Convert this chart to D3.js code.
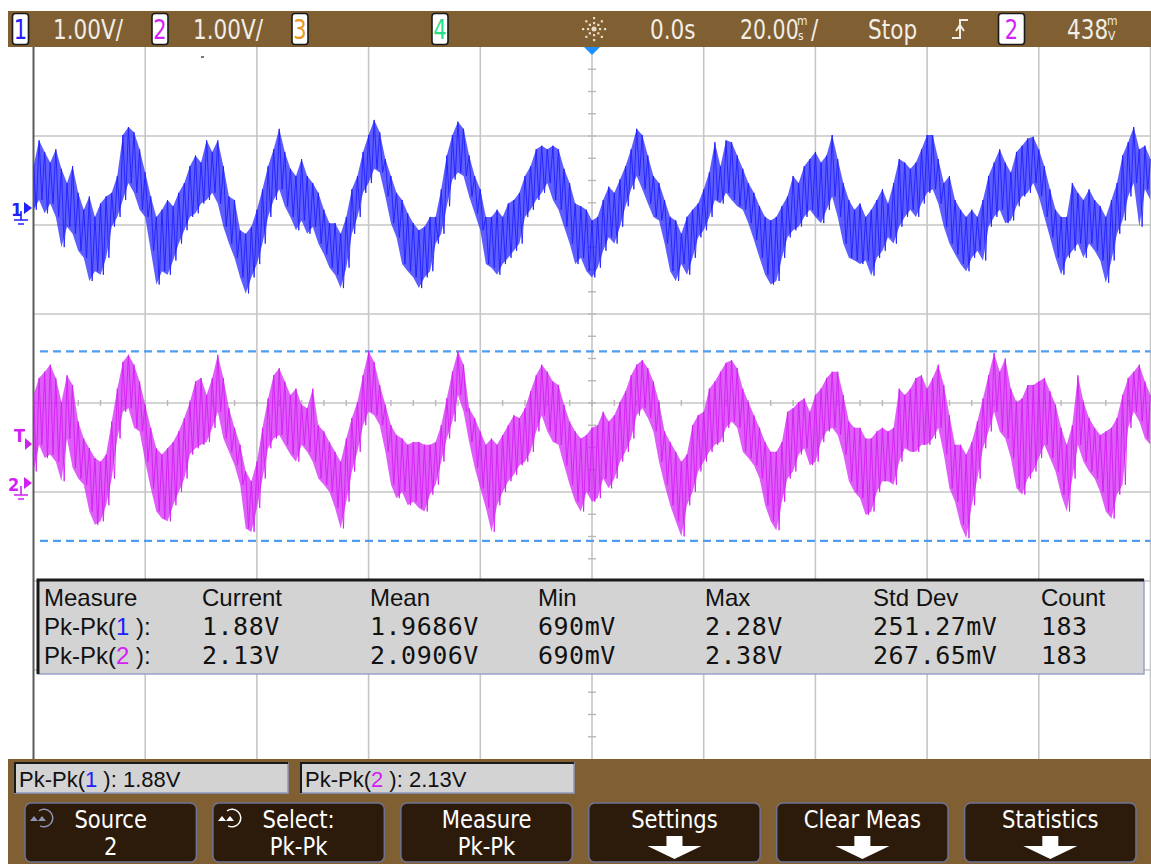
<!DOCTYPE html>
<html>
<head>
<meta charset="utf-8">
<title>Pk-Pk</title>
<script src="https://cdnjs.cloudflare.com/ajax/libs/d3/7.8.5/d3.min.js"></script>
<style>
  body { margin: 0; background: #fff; }
  svg { display: block; }
</style>
</head>
<body>
<div id="pantalla"></div>
<script>
// base de tiempo: una muestra por ms, de -100 ms a +100 ms (20 ms/div)
var t0 = -100, dt = 1;

// canal 1 (V), borde superior e inferior de la traza en cada muestra
var ch1Hi = [
  0.47, 0.76, 0.63, 0.51, 0.66, 0.44, 0.28, 0.47, 0.17, -0.02,
  0.13, -0.10, 0.05, 0.13, 0.17, 0.36, 0.82, 0.91, 0.85, 0.66,
  0.40, 0.13, -0.10, -0.02, 0.09, 0.02, 0.17, 0.28, 0.47, 0.59,
  0.51, 0.76, 0.63, 0.76, 0.47, 0.13, 0.09, -0.25, -0.29, -0.21,
  -0.02, 0.21, 0.47, 0.66, 0.89, 0.63, 0.44, 0.36, 0.55, 0.36,
  0.28, 0.17, -0.02, -0.17, -0.17, -0.29, -0.10, 0.21, 0.36, 0.63,
  0.82, 0.99, 0.85, 0.55, 0.36, 0.17, 0.09, -0.06, -0.17, -0.25,
  -0.21, -0.10, -0.10, 0.21, 0.59, 0.82, 0.97, 0.89, 0.59, 0.36,
  0.21, -0.10, -0.10, -0.02, -0.10, 0.05, 0.09, 0.17, 0.36, 0.47,
  0.66, 0.70, 0.66, 0.70, 0.66, 0.44, 0.28, 0.05, 0.02, -0.02,
  -0.14, -0.10, 0.09, 0.24, 0.17, 0.32, 0.47, 0.66, 0.89, 0.82,
  0.59, 0.36, 0.28, 0.09, -0.10, -0.14, -0.29, -0.10, -0.02, 0.05,
  0.21, 0.40, 0.74, 0.47, 0.76, 0.74, 0.59, 0.44, 0.28, 0.17,
  0.02, -0.10, -0.14, -0.10, 0.02, 0.13, 0.36, 0.28, 0.47, 0.55,
  0.63, 0.51, 0.59, 0.82, 0.55, 0.28, 0.09, -0.02, 0.05, -0.10,
  -0.02, 0.09, 0.21, 0.05, 0.28, 0.55, 0.51, 0.44, 0.51, 0.66,
  0.82, 0.82, 0.55, 0.28, 0.36, 0.09, -0.02, -0.10, -0.02, -0.10,
  0.09, 0.36, 0.51, 0.66, 0.51, 0.40, 0.63, 0.70, 0.78, 0.80,
  0.66, 0.47, 0.21, -0.02, -0.10, -0.10, 0.28, 0.17, 0.09, 0.21,
  0.09, 0.02, -0.10, 0.09, 0.28, 0.59, 0.74, 0.91, 0.66, 0.70,
  0.55
];
var ch1Lo = [
  -0.02, 0.09, -0.06, 0.05, -0.10, -0.44, -0.21, -0.29, -0.48, -0.56,
  -0.82, -0.71, -0.75, -0.56, -0.21, -0.10, 0.09, 0.28, 0.17, -0.02,
  -0.10, -0.48, -0.86, -0.71, -0.75, -0.59, -0.40, -0.25, -0.10, -0.06,
  0.05, 0.09, 0.17, 0.05, -0.21, -0.40, -0.56, -0.78, -0.96, -0.78,
  -0.63, -0.40, -0.10, 0.09, 0.21, 0.02, -0.10, -0.25, -0.14, -0.29,
  -0.21, -0.40, -0.52, -0.67, -0.75, -0.90, -0.67, -0.29, -0.10, 0.17,
  0.28, 0.44, 0.40, 0.13, -0.17, -0.33, -0.63, -0.71, -0.78, -0.90,
  -0.78, -0.71, -0.40, -0.29, 0.02, 0.32, 0.40, 0.36, 0.13, -0.06,
  -0.25, -0.63, -0.67, -0.75, -0.63, -0.56, -0.48, -0.40, -0.10, -0.02,
  0.09, 0.17, 0.28, 0.09, -0.02, -0.21, -0.40, -0.63, -0.56, -0.71,
  -0.78, -0.67, -0.48, -0.33, -0.40, -0.21, 0.02, 0.21, 0.36, 0.21,
  0.05, -0.10, -0.14, -0.40, -0.71, -0.82, -0.63, -0.75, -0.56, -0.33,
  -0.25, -0.10, 0.09, 0.05, 0.17, 0.09, 0.02, -0.02, -0.17, -0.36,
  -0.56, -0.75, -0.86, -0.82, -0.56, -0.33, -0.25, -0.21, -0.10, -0.02,
  -0.10, -0.17, -0.02, 0.13, -0.10, -0.40, -0.56, -0.59, -0.63, -0.59,
  -0.76, -0.56, -0.48, -0.33, -0.40, -0.21, -0.10, -0.02, -0.10, 0.05,
  0.17, 0.21, 0.05, -0.21, -0.40, -0.52, -0.63, -0.71, -0.56, -0.48,
  -0.59, -0.21, -0.10, -0.02, -0.17, -0.14, 0.02, 0.13, 0.17, 0.28,
  0.13, -0.10, -0.33, -0.56, -0.75, -0.56, -0.48, -0.40, -0.56, -0.40,
  -0.48, -0.59, -0.84, -0.59, -0.29, -0.14, 0.13, 0.28, -0.21, 0.21,
  0.09
];

// canal 2 (V)
var ch2Hi = [
  0.99, 1.18, 1.25, 1.33, 1.18, 0.91, 1.21, 1.10, 0.69, 0.50,
  0.39, 0.28, 0.24, 0.32, 0.69, 1.06, 1.36, 1.44, 1.33, 1.14,
  0.88, 0.62, 0.39, 0.32, 0.39, 0.46, 0.58, 0.73, 0.91, 1.14,
  1.18, 0.99, 1.18, 1.44, 1.18, 0.84, 0.62, 0.43, 0.13, 0.02,
  0.24, 0.62, 0.95, 1.21, 1.29, 1.14, 0.99, 1.06, 0.88, 0.84,
  1.06, 0.65, 0.58, 0.46, 0.35, 0.24, 0.50, 0.73, 0.91, 1.21,
  1.48, 1.36, 1.10, 0.88, 0.65, 0.54, 0.50, 0.43, 0.46, 0.46,
  0.43, 0.43, 0.46, 0.65, 0.95, 1.25, 1.48, 1.33, 0.84, 0.73,
  0.58, 0.43, 0.50, 0.43, 0.54, 0.65, 0.76, 0.73, 0.84, 1.03,
  1.21, 1.33, 1.25, 1.14, 1.10, 0.88, 0.69, 0.58, 0.50, 0.54,
  0.62, 0.65, 0.80, 0.69, 0.76, 0.91, 1.03, 1.21, 1.33, 1.38,
  1.29, 1.14, 0.91, 0.58, 0.46, 0.35, 0.24, 0.32, 0.65, 0.76,
  0.80, 1.06, 1.14, 1.25, 1.35, 1.38, 1.29, 1.06, 0.91, 0.76,
  0.62, 0.46, 0.35, 0.35, 0.46, 0.80, 0.84, 0.91, 0.95, 0.80,
  0.99, 1.06, 1.18, 1.25, 1.25, 0.99, 0.69, 0.62, 0.62, 0.50,
  0.50, 0.58, 0.62, 0.58, 0.62, 1.06, 0.99, 1.06, 1.18, 1.21,
  1.06, 1.18, 1.33, 1.10, 0.76, 0.43, 0.43, 0.32, 0.46, 0.69,
  0.95, 1.21, 1.46, 1.25, 1.40, 1.06, 0.91, 0.95, 1.10, 1.10,
  1.14, 1.18, 1.03, 0.88, 0.62, 0.43, 0.65, 1.21, 0.91, 0.73,
  0.62, 0.54, 0.58, 0.62, 0.73, 0.99, 1.18, 1.25, 1.33, 1.14,
  0.99
];
var ch2Lo = [
  0.13, 0.43, 0.28, 0.32, 0.24, 0.02, 0.50, 0.17, 0.05, -0.02,
  -0.32, -0.47, -0.43, -0.25, 0.05, 0.50, 0.80, 0.84, 0.62, 0.58,
  0.24, -0.06, -0.32, -0.40, -0.43, -0.25, -0.10, 0.05, 0.32, 0.39,
  0.43, 0.46, 0.62, 0.80, 0.50, 0.35, 0.20, -0.02, -0.51, -0.55,
  -0.28, 0.05, 0.39, 0.50, 0.54, 0.43, 0.32, 0.24, 0.43, 0.35,
  0.24, 0.05, -0.02, -0.10, -0.28, -0.51, -0.21, 0.13, 0.35, 0.65,
  0.80, 0.76, 0.65, 0.35, -0.02, -0.17, -0.10, -0.25, -0.21, -0.28,
  -0.32, -0.13, -0.02, 0.24, 0.50, 0.69, 0.99, 0.80, 0.46, 0.17,
  -0.06, -0.28, -0.55, -0.25, -0.10, 0.02, 0.09, 0.20, 0.24, 0.35,
  0.58, 0.76, 0.58, 0.46, 0.43, 0.20, -0.02, -0.21, -0.32, -0.10,
  -0.21, -0.17, 0.05, -0.06, 0.05, 0.24, 0.35, 0.50, 0.76, 0.84,
  0.73, 0.58, 0.24, -0.02, -0.25, -0.43, -0.60, -0.25, -0.10, 0.13,
  0.24, 0.35, 0.43, 0.46, 0.62, 0.69, 0.62, 0.35, 0.28, 0.20,
  0.05, -0.25, -0.43, -0.53, -0.21, 0.05, 0.13, 0.32, 0.39, 0.20,
  0.24, 0.46, 0.58, 0.62, 0.54, 0.32, 0.02, -0.10, -0.17, -0.36,
  -0.32, -0.10, 0.02, 0.02, -0.02, 0.24, 0.39, 0.35, 0.35, 0.43,
  0.43, 0.50, 0.62, 0.32, -0.06, -0.21, -0.47, -0.62, -0.25, 0.05,
  0.39, 0.58, 0.80, 0.58, 0.50, 0.28, -0.06, -0.13, 0.05, 0.13,
  0.28, 0.43, 0.28, 0.13, -0.13, -0.32, 0.05, 0.43, 0.24, 0.13,
  0.05, -0.10, -0.32, -0.40, -0.13, -0.02, 0.62, 0.80, 0.69, 0.50,
  0.43
];

// cursores de medida del canal 2 y nivel de disparo (V)
var cursores2 = [1.48, -0.65];
var nivelDisparo = 0.438;

// textos de la tabla de medidas
var cabecera = ["Measure", "Current", "Mean", "Min", "Max", "Std Dev", "Count"];
var canalesMedidos = ["1", "2"];
var valoresCh1 = ["1.88V", "1.9686V", "690mV", "2.28V", "251.27mV", "183"];
var valoresCh2 = ["2.13V", "2.0906V", "690mV", "2.38V", "267.65mV", "183"];

// teclas de menu
var teclaArriba = ["Source", "Select:", "Measure", "Settings", "Clear Meas", "Statistics"];
var teclaAbajo = ["2", "Pk-Pk", "Pk-Pk", null, null, null];

var colorCanal = { "1": "#2020ff", "2": "#d21ff5", "3": "#e89a1c", "4": "#22e08a" };

var W = 1151, H = 864;
var svg = d3.select("#pantalla").append("svg")
    .attr("width", W)
    .attr("height", H)
    .style("font-family", "'DejaVu Sans', sans-serif");

svg.append("rect").attr("width", W).attr("height", H).attr("fill", "#fff");

// escalas: tiempo, divisiones de pantalla y un eje de tension por canal (1 V/div)
var x = d3.scaleLinear().domain([-100, 100]).range([33.5, 1150.5]);
var yDiv = d3.scaleLinear().domain([-4, 4]).range([759, 47]);
var y1 = d3.scaleLinear().domain([0, 1]).range([208, 119]);
var y2 = d3.scaleLinear().domain([0, 1]).range([483, 394]);

function rotulo(g, px, py, s, size, color, anchor, sx) {
    return g.append("text")
        .attr("transform", "translate(" + px + "," + py + ") scale(" + sx + ",1)")
        .attr("font-size", size)
        .attr("fill", color)
        .attr("text-anchor", anchor)
        .text(s);
}

// reticula
var grid = svg.append("g");
grid.selectAll(".v").data(d3.range(-80, 101, 20)).enter().append("line")
    .attr("x1", function (d) { return x(d); })
    .attr("x2", function (d) { return x(d); })
    .attr("y1", yDiv(4)).attr("y2", yDiv(-4))
    .attr("stroke", "#c6c6c6").attr("stroke-width", 1.6);
grid.selectAll(".h").data(d3.range(-3, 4, 1)).enter().append("line")
    .attr("x1", x(-100)).attr("x2", x(100))
    .attr("y1", function (d) { return yDiv(d); })
    .attr("y2", function (d) { return yDiv(d); })
    .attr("stroke", "#c6c6c6").attr("stroke-width", 1.6);
grid.selectAll(".tx").data(d3.range(-96, 100, 4)).enter().append("line")
    .attr("x1", function (d) { return x(d); })
    .attr("x2", function (d) { return x(d); })
    .attr("y1", yDiv(0) - 3).attr("y2", yDiv(0) + 3)
    .attr("stroke", "#b8b8b8").attr("stroke-width", 1.4);
grid.selectAll(".ty").data(d3.range(-3.75, 4, 0.25)).enter().append("line")
    .attr("x1", x(0) - 4).attr("x2", x(0) + 4)
    .attr("y1", function (d) { return yDiv(d); })
    .attr("y2", function (d) { return yDiv(d); })
    .attr("stroke", "#b8b8b8").attr("stroke-width", 1.4);
grid.append("line")
    .attr("x1", x(-100)).attr("x2", x(-100))
    .attr("y1", yDiv(4)).attr("y2", yDiv(-4))
    .attr("stroke", "#5a5a5a").attr("stroke-width", 2);
grid.append("rect").attr("x", 201).attr("y", 56).attr("width", 3).attr("height", 2).attr("fill", "#777");

// cursores del canal 2
svg.selectAll(".cursor").data(cursores2).enter().append("line")
    .attr("x1", 40).attr("x2", x(100))
    .attr("y1", function (d) { return y2(d); })
    .attr("y2", function (d) { return y2(d); })
    .attr("stroke", "#4f9df2").attr("stroke-width", 2.2)
    .attr("stroke-dasharray", "8,5");

// trazas
svg.append("clipPath").attr("id", "recorte").append("rect")
    .attr("x", x(-100)).attr("y", yDiv(4))
    .attr("width", x(100) - x(-100)).attr("height", yDiv(-4) - yDiv(4));
var trazas = svg.append("g").attr("clip-path", "url(#recorte)");

function dibujaTraza(hi, lo, esc, color) {
    var banda = d3.area()
        .x(function (d, i) { return x(t0 + i * dt); })
        .y0(function (d, i) { return esc(lo[i]); })
        .y1(function (d) { return esc(d); });
    trazas.append("path").datum(hi)
        .attr("d", banda)
        .attr("fill", color).attr("opacity", 0.72);

    // zigzag entre el borde superior e inferior
    var puntos = [];
    hi.forEach(function (h, i) {
        puntos.push({ t: t0 + i * dt, v: h });
        puntos.push({ t: t0 + i * dt + dt / 2, v: lo[i] });
    });
    var linea = d3.line()
        .x(function (d) { return x(d.t); })
        .y(function (d) { return esc(d.v); });
    trazas.append("path").datum(puntos)
        .attr("d", linea)
        .attr("fill", "none")
        .attr("stroke", color).attr("stroke-width", 0.9);
}
dibujaTraza(ch1Hi, ch1Lo, y1, colorCanal["1"]);
dibujaTraza(ch2Hi, ch2Lo, y2, colorCanal["2"]);

// marcadores de la izquierda
var marcas = svg.append("g").attr("font-weight", "bold");
function marcaTierra(yy, color, etiqueta, ex) {
    marcas.append("path")
        .attr("d", "M24," + (yy - 6) + " L32," + yy + " L24," + (yy + 6) + " Z")
        .attr("fill", color);
    marcas.append("path")
        .attr("d", "M21," + (yy + 3) + " V" + (yy + 12) + " M14," + (yy + 12) + " H28 M18," + (yy + 16) + " H24")
        .attr("stroke", color).attr("stroke-width", 1.6).attr("fill", "none");
    rotulo(marcas, ex, yy + 8, etiqueta, 18, color, "start", 0.9);
}
marcaTierra(y1(0), colorCanal["1"], "1", 11);
marcaTierra(y2(0), colorCanal["2"], "2", 8);
marcas.append("path")
    .attr("d", "M25," + (y2(nivelDisparo) - 6) + " L32," + y2(nivelDisparo) + " L25," + (y2(nivelDisparo) + 6) + " Z")
    .attr("fill", colorCanal["2"]);
rotulo(marcas, 14, y2(nivelDisparo) - 2, "T", 18, colorCanal["2"], "start", 0.9);

// marca de referencia de tiempo
svg.append("path")
    .attr("d", "M" + (x(0) - 8) + ",47 L" + (x(0) + 8) + ",47 L" + x(0) + ",55 Z")
    .attr("fill", "#1e8fff");

// barra superior
var barra = svg.append("g");
barra.append("rect").attr("x", 8).attr("y", 11).attr("width", W - 8).attr("height", 36).attr("fill", "#805f33");
function cajaCanal(cx, w, n) {
    barra.append("rect")
        .attr("x", cx - w / 2).attr("y", 13.5).attr("width", w).attr("height", 31).attr("rx", 3)
        .attr("fill", "#fff").attr("stroke", "#1a1a1a").attr("stroke-width", 1.6);
    rotulo(barra, cx, 39, n, 27, colorCanal[n], "middle", 0.78);
}
cajaCanal(20.5, 16, "1");
cajaCanal(160, 16, "2");
cajaCanal(300, 16, "3");
cajaCanal(440, 16, "4");
cajaCanal(1011.5, 26, "2");

var claro = "#f2eee6";
rotulo(barra, 53, 39, "1.00V/", 27, claro, "start", 0.8);
rotulo(barra, 193, 39, "1.00V/", 27, claro, "start", 0.8);
rotulo(barra, 650, 39, "0.0s", 27, claro, "start", 0.8);
rotulo(barra, 740, 39, "20.00", 27, claro, "start", 0.76);
rotulo(barra, 797, 25, "m", 12, claro, "start", 0.9);
rotulo(barra, 798, 40, "s", 12, claro, "start", 0.9);
rotulo(barra, 811, 39, "/", 27, claro, "start", 0.8);
rotulo(barra, 868, 39, "Stop", 27, claro, "start", 0.8);
rotulo(barra, 1067, 39, "438", 27, claro, "start", 0.8);
rotulo(barra, 1107, 25, "m", 12, claro, "start", 0.9);
rotulo(barra, 1108, 40, "V", 12, claro, "start", 0.9);

// icono de intensidad
var sol = barra.append("g").attr("transform", "translate(594,29)");
d3.range(8).forEach(function (k) {
    var a = k * Math.PI / 4;
    [6, 11].forEach(function (r) {
        sol.append("rect")
            .attr("x", r * Math.cos(a) - 1).attr("y", r * Math.sin(a) - 1)
            .attr("width", 2.2).attr("height", 2.2).attr("fill", "#e6dccb");
    });
});
sol.append("circle").attr("r", 2.5).attr("fill", "#e6dccb");

// simbolo de flanco
barra.append("path")
    .attr("d", "M952,38 H960 V20 H968 M956,31 L960,25 L964,31")
    .attr("stroke", claro).attr("stroke-width", 2).attr("fill", "none");

// tabla de medidas
var tabla = svg.append("g");
tabla.append("rect").attr("x", 38).attr("y", 580).attr("width", 1106).attr("height", 94)
    .attr("fill", "#d3d3d3").attr("stroke", "#9aa3c8").attr("stroke-width", 1.5);
tabla.append("path").attr("d", "M38,674 V580 H1144")
    .attr("stroke", "#1a1a1a").attr("stroke-width", 3).attr("fill", "none");
var colX = [44, 202, 370, 538, 705, 873, 1041];
tabla.selectAll(".cab").data(cabecera).enter().append("text")
    .attr("x", function (d, i) { return colX[i]; })
    .attr("y", 606)
    .attr("font-family", "'Liberation Sans', Arial, sans-serif")
    .attr("font-size", 24).attr("fill", "#111")
    .text(function (d) { return d; });

[valoresCh1, valoresCh2].forEach(function (vals, r) {
    var yy = 635 + r * 29;
    var et = tabla.append("text").attr("x", colX[0]).attr("y", yy)
        .attr("font-family", "'Liberation Sans', Arial, sans-serif")
        .attr("font-size", 24).attr("fill", "#111");
    et.append("tspan").text("Pk-Pk(");
    et.append("tspan").attr("fill", colorCanal[canalesMedidos[r]]).text(canalesMedidos[r]);
    et.append("tspan").text(" ):");
    tabla.selectAll(".val" + r).data(vals).enter().append("text")
        .attr("x", function (d, i) { return colX[i + 1]; })
        .attr("y", yy)
        .attr("font-family", "'DejaVu Sans Mono', monospace")
        .attr("font-size", 25).attr("letter-spacing", 0.5).attr("fill", "#111")
        .text(function (d) { return d; });
});

// parte inferior
var pie = svg.append("g");
pie.append("rect").attr("x", 8).attr("y", 759).attr("width", W - 8).attr("height", H - 759).attr("fill", "#805f33");

[valoresCh1[0], valoresCh2[0]].forEach(function (v, i) {
    var bx = 15 + i * 286;
    pie.append("rect").attr("x", bx).attr("y", 763).attr("width", 273).attr("height", 30)
        .attr("fill", "#d3d3d3").attr("stroke", "#8f98c0").attr("stroke-width", 1.5);
    pie.append("path").attr("d", "M" + bx + ",793 V763 H" + (bx + 273))
        .attr("stroke", "#1a1a1a").attr("stroke-width", 2).attr("fill", "none");
    var tt = pie.append("text").attr("x", bx + 4).attr("y", 787)
        .attr("font-family", "'Liberation Sans', Arial, sans-serif")
        .attr("font-size", 22).attr("fill", "#111");
    tt.append("tspan").text("Pk-Pk(");
    tt.append("tspan").attr("fill", colorCanal[canalesMedidos[i]]).text(canalesMedidos[i]);
    tt.append("tspan").text(" ): " + v);
});

var teclaX = d3.scaleBand().domain(d3.range(6)).range([25, 1136]).paddingInner(0.088);
teclaArriba.forEach(function (s, i) {
    var bx = teclaX(i), bw = teclaX.bandwidth(), cx = bx + bw / 2;
    pie.append("rect").attr("x", bx).attr("y", 803).attr("width", bw).attr("height", 59).attr("rx", 6)
        .attr("fill", "#2c1b0b").attr("stroke", "#6d7394").attr("stroke-width", 1.5);
    rotulo(pie, cx, 828, s, 24, "#fff", "middle", 0.88);
    if (teclaAbajo[i] !== null) {
        rotulo(pie, cx, 855, teclaAbajo[i], 24, "#fff", "middle", 0.88);
    } else {
        pie.append("path")
            .attr("d", "M" + (cx - 8) + ",836 H" + (cx + 8) + " V846 H" + (cx + 27) + " L" + cx + ",859 L" + (cx - 27) + ",846 H" + (cx - 8) + " Z")
            .attr("fill", "#fff");
    }
});

// iconos de perilla
function perilla(cx, cy, color) {
    var g = pie.append("g").attr("transform", "translate(" + cx + "," + cy + ")");
    g.append("path")
        .attr("d", d3.arc()({ innerRadius: 8, outerRadius: 9.5, startAngle: -0.6, endAngle: 3.6 }))
        .attr("fill", color);
    g.append("path").attr("d", "M-14,3 L-10,-2 L-6,3 Z M-6,3 L-2,-2 L2,3 Z").attr("fill", color);
}
perilla(44, 818, "#8e94b6");
perilla(232, 818, "#fff");
</script>
</body>
</html>
